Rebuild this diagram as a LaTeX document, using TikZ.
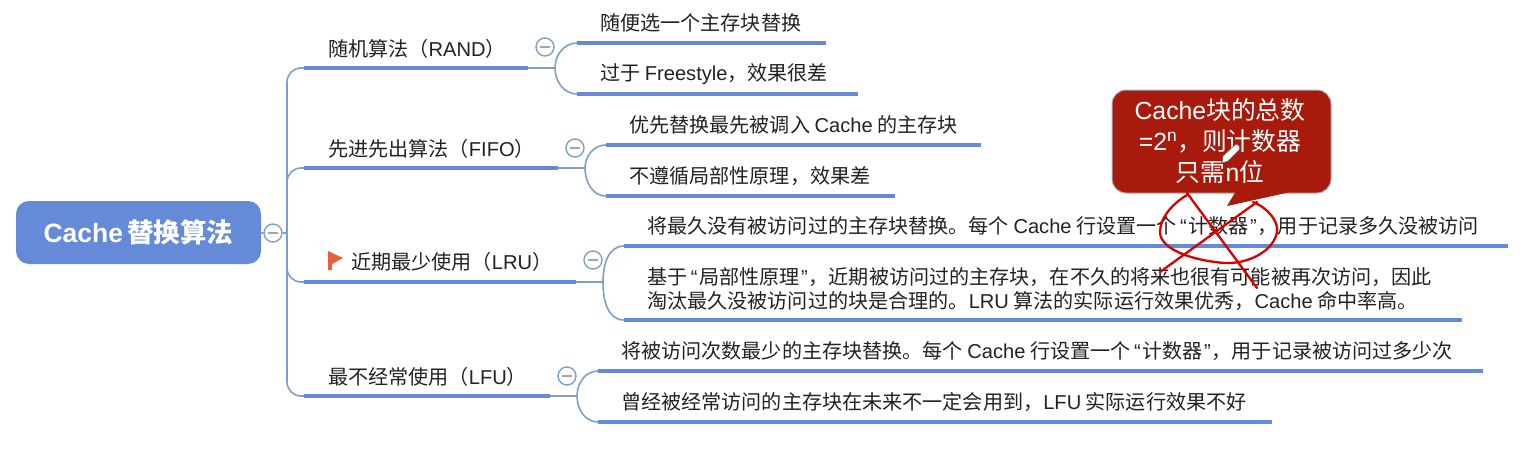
\documentclass[tikz,border=0pt]{standalone}
\usepackage{fontspec}
\setmainfont{Noto Sans CJK SC}
\newfontfamily\lat{Liberation Sans}
\newcommand{\La}[1]{{\lat #1}}
\newcommand{\Lq}{\hspace{3.5pt}{\lat “}\hspace{1.5pt}}
\newcommand{\Rq}{\hspace{1.5pt}{\lat ”}\hspace{1pt}}
\definecolor{blu}{HTML}{648AD8}
\definecolor{lin}{HTML}{7F9FCB}
\definecolor{txt}{HTML}{222222}
\definecolor{redb}{HTML}{A81A0C}
\definecolor{flagc}{HTML}{E8603C}
\tikzset{x=1pt,y=-1pt,
 lab/.style={anchor=west,inner sep=0pt,text=txt,font=\fontsize{20.1}{24}\selectfont,align=left},
 ul/.style={draw=blu,line width=4.5pt},
 conn/.style={draw=lin,line width=1.6pt},
 tog/.style={circle,draw=lin,fill=white,line width=1.4pt,minimum size=18pt,inner sep=0pt},
 dashm/.style={draw=gray!70,line width=1.4pt},
 scr/.style={draw=red!85!black,line width=2.3pt,line cap=round}}
\begin{document}
\begin{tikzpicture}
\useasboundingbox (0,0) rectangle (1522,460);
\fill[white] (0,0) rectangle (1522,460);
\node[fill=blu,rounded corners=13pt,minimum width=245pt,minimum height=63pt,text=white,font=\bfseries\fontsize{26.5}{28}\selectfont,inner sep=0pt] (root) at (138.5,232.5) {{\lat\bfseries Cache}\,替换算法};
\node[tog] (rt) at (273,233) {};
\draw[dashm] (268,233) -- (278,233);
\coordinate (r1a) at (304,68); \coordinate (r1b) at (528,68);
\coordinate (r2a) at (304,168); \coordinate (r2b) at (558,168);
\coordinate (r3a) at (304,282); \coordinate (r3b) at (576,282);
\coordinate (r4a) at (304,396); \coordinate (r4b) at (550,396);
\coordinate (sp) at (287,233);
\draw[conn] (root) -- (rt);
\draw[conn] (rt) -- (sp);
\draw[conn,rounded corners=14pt] (r1a) -| (sp) |- (r4a);
\draw[conn,rounded corners=14pt] (287,200) |- (r2a);
\draw[conn,rounded corners=14pt] (sp) |- (r3a);
\draw[ul] (r1a)--(r1b); \draw[ul] (r2a)--(r2b); \draw[ul] (r3a)--(r3b); \draw[ul] (r4a)--(r4b);
\node[lab] (t1) at (328,49) {随机算法（\La{RAND}）};
\node[lab] (t2) at (328,149) {先进先出算法（\La{FIFO}）};
\node[lab] (t3) at (351,262) {近期最少使用（\La{LRU}）};
\node[lab] (t4) at (328,377) {最不经常使用（\La{LFU}）};
\fill[flagc] (328,251) -- (343,258) -- (332,264) -- (332,270) -- (328,270) -- cycle;
\node[tog] (g1) at (545,47) {}; \draw[dashm] (540,47) -- (550,47);
\node[tog] (g2) at (575,148) {}; \draw[dashm] (570,148) -- (580,148);
\node[tog] (g3) at (593,260) {}; \draw[dashm] (588,260) -- (598,260);
\node[tog] (g4) at (567,376) {}; \draw[dashm] (562,376) -- (572,376);
\coordinate (j1) at (555,68); \coordinate (j2) at (585,168);
\coordinate (j3) at (603,282); \coordinate (j4) at (577,396);
\draw[conn] (r1b) -- (j1); \draw[conn] (r2b) -- (j2);
\draw[conn] (r3b) -- (j3); \draw[conn] (r4b) -- (j4);
\coordinate (a1) at (577,43); \coordinate (a2) at (826,43);
\coordinate (b1) at (577,94); \coordinate (b2) at (858,94);
\draw[conn] (j1) to[out=90,in=180] (a1);
\draw[conn] (j1) to[out=-90,in=180] (b1);
\draw[ul] (a1)--(a2); \draw[ul] (b1)--(b2);
\node[lab] (la) at (600,23) {随便选一个主存块替换};
\node[lab] (lb) at (600,74) {过于 \La{Freestyle}，效果很差};
\coordinate (c1) at (606,145); \coordinate (c2) at (981,145);
\coordinate (d1) at (606,196); \coordinate (d2) at (895,196);
\draw[conn] (j2) to[out=90,in=180] (c1);
\draw[conn] (j2) to[out=-90,in=180] (d1);
\draw[ul] (c1)--(c2); \draw[ul] (d1)--(d2);
\node[lab] (lc) at (629,125) {优先替换最先被调入 \La{Cache} 的主存块};
\node[lab] (ld) at (629,176) {不遵循局部性原理，效果差};
\coordinate (e1) at (624,246); \coordinate (e2) at (1508,246);
\coordinate (f1) at (624,320); \coordinate (f2) at (1462,320);
\draw[conn] (j3) to[out=90,in=180] (e1);
\draw[conn] (j3) to[out=-90,in=180] (f1);
\draw[ul] (e1)--(e2); \draw[ul] (f1)--(f2);
\node[lab] (le) at (647,226) {将最久没有被访问过的主存块替换。每个 \La{Cache} 行设置一个\Lq 计数器\Rq ，用于记录多久没被访问};
\node[lab] (lf) at (647,289) {基于\Lq 局部性原理\Rq ，近期被访问过的主存块，在不久的将来也很有可能被再次访问，因此\\淘汰最久没被访问过的块是合理的。\La{LRU} 算法的实际运行效果优秀，\La{Cache} 命中率高。};
\coordinate (h1) at (598,371); \coordinate (h2) at (1483,371);
\coordinate (i1) at (598,422); \coordinate (i2) at (1272,422);
\draw[conn] (j4) to[out=90,in=180] (h1);
\draw[conn] (j4) to[out=-90,in=180] (i1);
\draw[ul] (h1)--(h2); \draw[ul] (i1)--(i2);
\node[lab] (lh) at (621,351) {将被访问次数最少的主存块替换。每个 \La{Cache} 行设置一个\Lq 计数器\Rq ，用于记录被访问过多少次};
\node[lab] (li) at (621,402) {曾经被经常访问的主存块在未来不一定会用到，\La{LFU} 实际运行效果不好};
\draw[fill=redb,draw=gray!60,line width=1pt,rounded corners=14pt] (1112,90) rectangle (1331,193);
\fill[redb] (1236,191) -- (1227,206) -- (1295,191) -- cycle;
\node[align=center,text=white,font=\fontsize{24.8}{31}\selectfont,inner sep=0pt] (note) at (1220,141) {\La{Cache}块的总数\\\La{=2\textsuperscript{n}}，则计数器\\只需\La{n}位};
\draw[fill=white,draw=gray!80!black,line width=.6pt] (1222,163) -- (1223,156) -- (1235,145) .. controls (1238,143) and (1241,147) .. (1239,150) -- (1228,161) -- cycle;
\draw[scr] (1253,202) .. controls (1268,208) and (1279,222) .. (1277,232) .. controls (1274,250) and (1250,264) .. (1225,263) .. controls (1195,261) and (1160,250) .. (1160,232) .. controls (1160,218) and (1172,204) .. (1187,195);
\draw[scr] (1187,193) -- (1257,288);
\draw[scr] (1257,202) -- (1160,272);
\end{tikzpicture}
\end{document}
